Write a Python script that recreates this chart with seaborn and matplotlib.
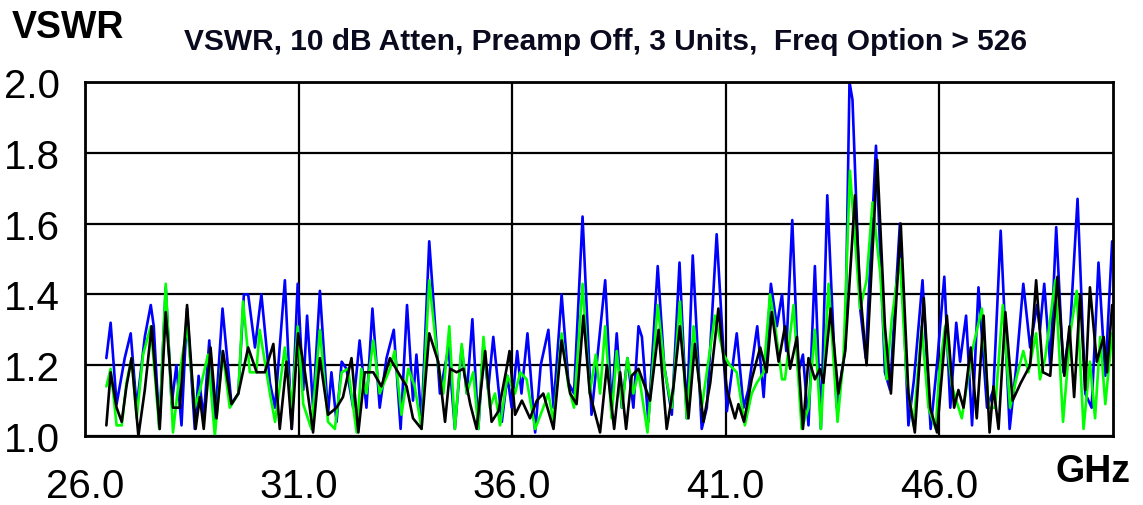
import pandas as pd
import numpy as np
import matplotlib.pyplot as plt
import seaborn as sns

# VSWR traces (peaks and troughs), GHz vs VSWR
freq_blue = [26.50, 26.60, 26.74, 26.93, 27.07, 27.21, 27.40, 27.54, 27.61, 27.74, 27.89, 28.03, 28.14,
             28.26, 28.39, 28.57, 28.66, 28.78, 28.91, 29.04, 29.22, 29.43, 29.59, 29.72, 29.82, 29.98,
             30.13, 30.33, 30.45, 30.68, 30.84, 30.98, 31.11, 31.20, 31.34, 31.50, 31.69, 31.77, 31.89,
             32.01, 32.12, 32.28, 32.43, 32.59, 32.73, 32.90, 33.06, 33.23, 33.39, 33.54, 33.68, 33.76,
             33.88, 34.06, 34.31, 34.51, 34.66, 34.82, 34.94, 35.07, 35.21, 35.33, 35.44, 35.56, 35.76,
             35.89, 35.99, 36.12, 36.22, 36.36, 36.54, 36.67, 36.85, 36.97, 37.16, 37.32, 37.45, 37.65,
             37.86, 38.18, 38.33, 38.45, 38.57, 38.70, 38.84, 38.96, 39.04, 39.19, 39.41, 39.56, 39.74,
             39.92, 40.09, 40.23, 40.44, 40.56, 40.79, 41.03, 41.26, 41.42, 41.53, 41.74, 41.89, 42.06,
             42.20, 42.32, 42.42, 42.56, 42.70, 42.81, 42.94, 43.09, 43.23, 43.38, 43.60, 43.72, 43.80,
             43.90, 43.97, 44.15, 44.28, 44.52, 44.73, 44.85, 45.08, 45.28, 45.41, 45.61, 45.80, 45.94,
             46.12, 46.26, 46.40, 46.49, 46.63, 46.77, 46.92, 47.12, 47.27, 47.44, 47.65, 47.80, 47.97,
             48.13, 48.29, 48.36, 48.46, 48.60, 48.74, 48.91, 49.07, 49.24, 49.42, 49.57, 49.73, 49.89,
             50.05]
vswr_blue = [1.22, 1.32, 1.09, 1.22, 1.29, 1.08, 1.28, 1.37, 1.31, 1.02, 1.42, 1.09, 1.20,
             1.03, 1.36, 1.02, 1.17, 1.05, 1.27, 1.03, 1.36, 1.09, 1.12, 1.40, 1.40, 1.25,
             1.40, 1.15, 1.08, 1.44, 1.02, 1.43, 1.13, 1.34, 1.08, 1.41, 1.06, 1.18, 1.04,
             1.21, 1.19, 1.08, 1.27, 1.08, 1.36, 1.08, 1.22, 1.30, 1.02, 1.37, 1.10, 1.23,
             1.04, 1.55, 1.12, 1.25, 1.02, 1.25, 1.12, 1.33, 1.02, 1.26, 1.13, 1.28, 1.04,
             1.17, 1.08, 1.24, 1.12, 1.29, 1.01, 1.20, 1.30, 1.08, 1.40, 1.15, 1.12, 1.62,
             1.06, 1.44, 1.08, 1.29, 1.08, 1.22, 1.08, 1.31, 1.28, 1.04, 1.48, 1.20, 1.06,
             1.49, 1.05, 1.51, 1.02, 1.08, 1.57, 1.07, 1.29, 1.08, 1.13, 1.31, 1.11, 1.43,
             1.31, 1.40, 1.24, 1.61, 1.18, 1.23, 1.03, 1.48, 1.02, 1.68, 1.08, 1.18, 1.25,
             2.00, 1.95, 1.36, 1.22, 1.82, 1.18, 1.13, 1.60, 1.03, 1.16, 1.44, 1.02, 1.19,
             1.45, 1.08, 1.32, 1.21, 1.34, 1.03, 1.42, 1.08, 1.13, 1.58, 1.02, 1.19, 1.43,
             1.25, 1.37, 1.30, 1.43, 1.20, 1.59, 1.18, 1.31, 1.67, 1.12, 1.08, 1.49, 1.17,
             1.55]

freq_green = [26.50, 26.60, 26.74, 26.86, 26.97, 27.09, 27.21, 27.36, 27.54, 27.74, 27.89, 28.06, 28.22,
              28.39, 28.57, 28.69, 28.88, 29.04, 29.22, 29.39, 29.59, 29.70, 29.86, 30.01, 30.09, 30.33,
              30.45, 30.68, 30.84, 30.98, 31.11, 31.30, 31.50, 31.69, 31.85, 32.01, 32.16, 32.36, 32.47,
              32.59, 32.75, 32.90, 33.14, 33.25, 33.41, 33.57, 33.72, 33.88, 34.06, 34.27, 34.39, 34.53,
              34.66, 34.82, 34.94, 35.09, 35.21, 35.33, 35.48, 35.60, 35.72, 35.89, 36.07, 36.19, 36.34,
              36.54, 36.73, 36.85, 36.97, 37.16, 37.32, 37.45, 37.65, 37.82, 37.96, 38.06, 38.18, 38.33,
              38.45, 38.58, 38.70, 38.84, 38.96, 39.17, 39.41, 39.58, 39.74, 39.93, 40.09, 40.25, 40.44,
              40.56, 40.75, 40.95, 41.10, 41.26, 41.45, 41.61, 41.73, 41.89, 42.04, 42.16, 42.32, 42.39,
              42.59, 42.78, 42.94, 43.09, 43.23, 43.41, 43.62, 43.76, 43.91, 44.15, 44.30, 44.44, 44.62,
              44.77, 44.89, 45.08, 45.24, 45.40, 45.59, 45.75, 45.92, 46.00, 46.14, 46.30, 46.53, 46.77,
              47.00, 47.16, 47.31, 47.49, 47.66, 47.82, 47.97, 48.09, 48.27, 48.36, 48.48, 48.72, 48.90,
              49.07, 49.22, 49.38, 49.53, 49.65, 49.77, 49.89, 50.05]
vswr_green = [1.14, 1.19, 1.03, 1.03, 1.15, 1.22, 1.05, 1.23, 1.31, 1.02, 1.43, 1.01, 1.18,
              1.31, 1.08, 1.13, 1.23, 1.00, 1.24, 1.08, 1.12, 1.38, 1.18, 1.18, 1.30, 1.12,
              1.04, 1.25, 1.08, 1.31, 1.09, 1.02, 1.30, 1.04, 1.02, 1.18, 1.19, 1.01, 1.19,
              1.12, 1.27, 1.12, 1.19, 1.24, 1.06, 1.19, 1.14, 1.02, 1.44, 1.20, 1.12, 1.31,
              1.02, 1.26, 1.12, 1.18, 1.02, 1.28, 1.08, 1.12, 1.03, 1.17, 1.12, 1.18, 1.16,
              1.02, 1.08, 1.12, 1.04, 1.29, 1.14, 1.08, 1.43, 1.12, 1.23, 1.12, 1.31, 1.05,
              1.24, 1.08, 1.22, 1.12, 1.18, 1.01, 1.37, 1.18, 1.08, 1.38, 1.05, 1.31, 1.08,
              1.18, 1.34, 1.23, 1.20, 1.18, 1.03, 1.12, 1.15, 1.18, 1.40, 1.31, 1.16, 1.16,
              1.37, 1.02, 1.08, 1.30, 1.02, 1.43, 1.04, 1.22, 1.75, 1.36, 1.44, 1.66, 1.46,
              1.16, 1.33, 1.50, 1.16, 1.03, 1.31, 1.08, 1.02, 1.18, 1.31, 1.14, 1.05, 1.24,
              1.36, 1.08, 1.08, 1.37, 1.08, 1.17, 1.24, 1.18, 1.29, 1.16, 1.22, 1.44, 1.04,
              1.29, 1.41, 1.02, 1.21, 1.05, 1.28, 1.09, 1.29]

freq_black = [26.50, 26.60, 26.74, 26.86, 26.97, 27.09, 27.25, 27.40, 27.56, 27.75, 27.89, 28.06, 28.22,
              28.39, 28.59, 28.69, 28.78, 28.94, 29.08, 29.23, 29.43, 29.59, 29.82, 30.02, 30.21, 30.41,
              30.56, 30.72, 30.84, 30.99, 31.15, 31.34, 31.50, 31.69, 31.89, 32.04, 32.24, 32.40, 32.55,
              32.75, 32.94, 33.14, 33.33, 33.53, 33.68, 33.88, 34.06, 34.27, 34.43, 34.55, 34.70, 34.86,
              35.02, 35.17, 35.37, 35.52, 35.68, 35.87, 35.94, 36.07, 36.23, 36.42, 36.58, 36.73, 36.97,
              37.16, 37.36, 37.51, 37.67, 37.82, 38.06, 38.22, 38.39, 38.53, 38.67, 38.80, 38.96, 39.23,
              39.43, 39.62, 39.78, 39.93, 40.13, 40.28, 40.48, 40.64, 40.83, 41.03, 41.22, 41.30, 41.43,
              41.61, 41.81, 41.96, 42.08, 42.24, 42.39, 42.51, 42.67, 42.81, 42.94, 43.09, 43.21, 43.29,
              43.46, 43.64, 43.80, 44.03, 44.15, 44.30, 44.55, 44.73, 44.87, 45.10, 45.28, 45.43, 45.64,
              45.79, 45.95, 46.18, 46.35, 46.45, 46.57, 46.74, 46.88, 47.04, 47.18, 47.27, 47.39, 47.55,
              47.72, 47.91, 48.13, 48.27, 48.43, 48.60, 48.77, 48.93, 49.05, 49.16, 49.30, 49.42, 49.53,
              49.69, 49.85, 49.93, 50.05]
vswr_black = [1.03, 1.18, 1.08, 1.04, 1.14, 1.22, 1.00, 1.13, 1.31, 1.02, 1.35, 1.08, 1.08,
              1.37, 1.02, 1.11, 1.02, 1.25, 1.05, 1.24, 1.09, 1.12, 1.25, 1.18, 1.18, 1.26,
              1.02, 1.21, 1.02, 1.29, 1.18, 1.01, 1.22, 1.06, 1.08, 1.11, 1.22, 1.01, 1.18,
              1.18, 1.14, 1.22, 1.18, 1.14, 1.05, 1.02, 1.29, 1.21, 1.04, 1.19, 1.18, 1.19,
              1.09, 1.02, 1.24, 1.04, 1.07, 1.19, 1.24, 1.06, 1.10, 1.05, 1.10, 1.12, 1.02,
              1.27, 1.12, 1.09, 1.34, 1.12, 1.01, 1.20, 1.02, 1.18, 1.02, 1.17, 1.19, 1.10,
              1.30, 1.02, 1.14, 1.31, 1.05, 1.26, 1.04, 1.15, 1.36, 1.13, 1.05, 1.09, 1.04,
              1.16, 1.25, 1.18, 1.35, 1.21, 1.31, 1.19, 1.28, 1.02, 1.22, 1.16, 1.19, 1.15,
              1.36, 1.12, 1.24, 1.68, 1.41, 1.20, 1.78, 1.31, 1.12, 1.60, 1.12, 1.01, 1.39,
              1.08, 1.01, 1.34, 1.08, 1.13, 1.08, 1.25, 1.05, 1.34, 1.01, 1.14, 1.02, 1.35,
              1.10, 1.15, 1.20, 1.44, 1.18, 1.17, 1.45, 1.17, 1.31, 1.11, 1.40, 1.13, 1.42,
              1.21, 1.28, 1.18, 1.37]

x_ticks = [26.0, 31.0, 36.0, 41.0, 46.0]
y_ticks = [1.0, 1.2, 1.4, 1.6, 1.8, 2.0]

# long table for seaborn
data = pd.concat([
    pd.DataFrame({"GHz": freq_blue, "VSWR": vswr_blue, "unit": "blue"}),
    pd.DataFrame({"GHz": freq_green, "VSWR": vswr_green, "unit": "green"}),
    pd.DataFrame({"GHz": freq_black, "VSWR": vswr_black, "unit": "black"}),
], ignore_index=True)

sns.set_style("white")
plt.rcParams['font.family'] = ['Liberation Sans', 'DejaVu Sans']
plt.rcParams['text.color'] = 'black'

fig = plt.figure(figsize=(11.43, 5.06), dpi=100)
ax = fig.add_axes([85 / 1143, 69 / 506, 1028 / 1143, 354 / 506])

sns.lineplot(data=data, x="GHz", y="VSWR", hue="unit", hue_order=["blue", "green", "black"],
             palette={"blue": "#0000ff", "green": "#00ff00", "black": "#000000"},
             estimator=None, sort=False, linewidth=1.9, legend=False, ax=ax)

ax.set_xlim(26.0, 50.07)
ax.set_ylim(1.0, 2.0)
ax.set_xticks(x_ticks)
ax.set_xticklabels([f"{t:.1f}" for t in x_ticks])
ax.set_yticks(y_ticks)
ax.set_yticklabels([f"{t:.1f}" for t in y_ticks])
ax.grid(True, color="black", linewidth=1.6)
ax.set_axisbelow(True)
for s in ax.spines.values():
    s.set_color("black")
    s.set_linewidth(2)
ax.tick_params(length=0, labelsize=29, colors="black")
ax.tick_params(axis="y", pad=18)
ax.tick_params(axis="x", pad=22)
ax.set_xlabel("")
ax.set_ylabel("")

fig.text(68 / 1143, 1 - 28 / 506, "VSWR", ha="center", va="center", fontsize=27,
         fontweight="bold", color="black")
fig.text(606 / 1143, 1 - 42 / 506, "VSWR, 10 dB Atten, Preamp Off, 3 Units,  Freq Option > 526",
         ha="center", va="center", fontsize=21.5, fontweight="bold", color="#0a0a1e")
fig.text(1093 / 1143, 1 - 472 / 506, "GHz", ha="center", va="center", fontsize=27,
         fontweight="bold", color="black")

fig.savefig("out.png", dpi=100)
